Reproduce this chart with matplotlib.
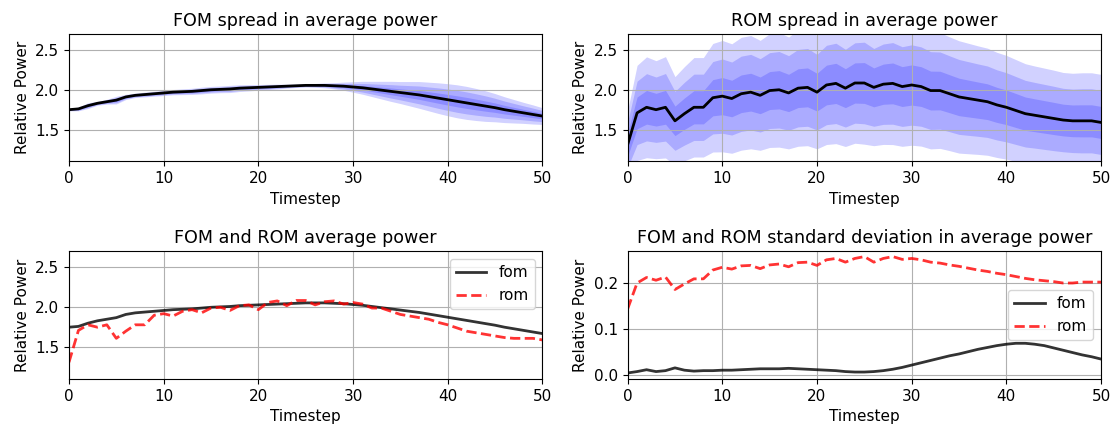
import numpy as np
import matplotlib.pyplot as plt

# timesteps 0..50
timestep = np.arange(51)

fom_mean = [1.75, 1.76, 1.80, 1.83, 1.85, 1.87, 1.91, 1.93, 1.94, 1.95,
            1.96, 1.97, 1.975, 1.98, 1.99, 2.00, 2.005, 2.01, 2.02, 2.025,
            2.03, 2.035, 2.04, 2.045, 2.05, 2.055, 2.055, 2.055, 2.05, 2.045,
            2.035, 2.025, 2.01, 1.995, 1.98, 1.965, 1.95, 1.935, 1.915, 1.895,
            1.875, 1.855, 1.835, 1.815, 1.795, 1.775, 1.75, 1.73, 1.71, 1.69,
            1.67]
fom_std = [0.005, 0.008, 0.012, 0.008, 0.010, 0.016, 0.011, 0.009, 0.010, 0.010,
           0.011, 0.011, 0.012, 0.013, 0.014, 0.014, 0.014, 0.015, 0.014, 0.013,
           0.012, 0.011, 0.010, 0.008, 0.007, 0.007, 0.008, 0.010, 0.013, 0.017,
           0.022, 0.027, 0.032, 0.037, 0.042, 0.046, 0.051, 0.056, 0.060, 0.064,
           0.067, 0.069, 0.069, 0.067, 0.064, 0.059, 0.054, 0.049, 0.044, 0.040,
           0.035]

rom_mean = [1.31, 1.71, 1.78, 1.75, 1.78, 1.61, 1.70, 1.78, 1.78, 1.90,
            1.92, 1.89, 1.95, 1.97, 1.93, 1.99, 2.00, 1.96, 2.02, 2.03,
            1.97, 2.06, 2.08, 2.02, 2.085, 2.085, 2.03, 2.07, 2.08, 2.04,
            2.06, 2.04, 1.99, 1.99, 1.95, 1.91, 1.89, 1.87, 1.85, 1.81,
            1.78, 1.74, 1.70, 1.68, 1.66, 1.64, 1.62, 1.61, 1.61, 1.61,
            1.59]
rom_std = [0.143, 0.199, 0.211, 0.205, 0.212, 0.185, 0.197, 0.208, 0.208, 0.227,
           0.233, 0.229, 0.236, 0.237, 0.230, 0.238, 0.240, 0.234, 0.243, 0.244,
           0.237, 0.249, 0.252, 0.244, 0.252, 0.256, 0.244, 0.252, 0.256, 0.250,
           0.252, 0.249, 0.244, 0.242, 0.238, 0.235, 0.231, 0.227, 0.224, 0.220,
           0.217, 0.213, 0.209, 0.206, 0.204, 0.202, 0.199, 0.199, 0.201, 0.201,
           0.201]

fom_mean = np.array(fom_mean)
fom_std = np.array(fom_std)
rom_mean = np.array(rom_mean)
rom_std = np.array(rom_std)

plt.rcParams['font.size'] = 11

fig, axs = plt.subplots(2, 2, figsize=(11.16, 4.28), dpi=100)
fig.subplots_adjust(left=0.0618, right=0.9866, bottom=0.1145, top=0.9206,
                    wspace=0.18, hspace=0.706)


def spread(ax, mean, std, title):
    for k in [3, 2, 1]:
        ax.fill_between(timestep, mean - k * std, mean + k * std,
                        color='blue', alpha=0.18, lw=0)
    ax.plot(timestep, mean, 'k', lw=2)
    ax.set_title(title, fontsize=12.6)


spread(axs[0, 0], fom_mean, fom_std, 'FOM spread in average power')
spread(axs[0, 1], rom_mean, rom_std, 'ROM spread in average power')

ax = axs[1, 0]
ax.plot(timestep, fom_mean, 'k', lw=2, alpha=0.8, label='fom')
ax.plot(timestep, rom_mean, 'r--', lw=2, alpha=0.8, label='rom')
ax.set_title('FOM and ROM average power', fontsize=12.6)
ax.legend(loc='upper right')

ax = axs[1, 1]
ax.plot(timestep, fom_std, 'k', lw=2, alpha=0.8, label='fom')
ax.plot(timestep, rom_std, 'r--', lw=2, alpha=0.8, label='rom')
ax.set_title('FOM and ROM standard deviation in average power', fontsize=12.6)
ax.legend(loc='center right')
ax.set_ylim(-0.008, 0.267)

for i, ax in enumerate(axs.flat):
    ax.set_xlim(0, 50)
    if i != 3:
        ax.set_ylim(1.1, 2.7)
    ax.set_xlabel('Timestep')
    ax.set_ylabel('Relative Power')
    ax.grid(True)

plt.savefig('out.png')
